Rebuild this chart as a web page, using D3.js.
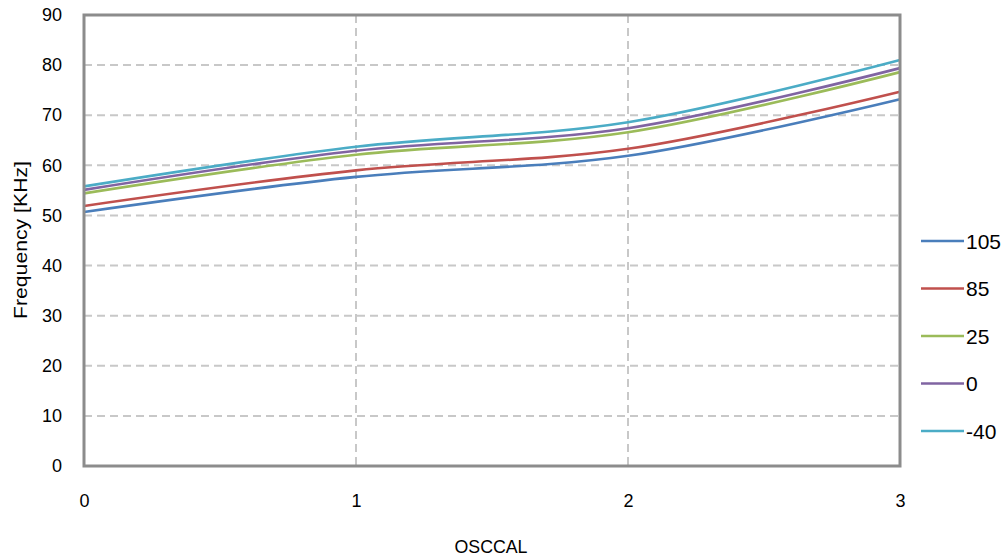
<!DOCTYPE html>
<html>
<head>
<meta charset="utf-8">
<script src="https://cdn.jsdelivr.net/npm/d3@7"></script>
<style>
  html, body { margin: 0; padding: 0; background: #fff; }
  svg { display: block; }
</style>
</head>
<body>
<svg id="chart" width="1006" height="560"></svg>
<script>
const oscCal = [0, 1, 2, 3];
const seriesNames = ["105", "85", "25", "0", "-40"];
const s105 = [50.7, 57.7, 61.9, 73.2];
const s85 = [51.9, 59.0, 63.3, 74.7];
const s25 = [54.4, 62.1, 66.6, 78.6];
const s0 = [55.1, 62.9, 67.4, 79.4];
const sM40 = [55.8, 63.7, 68.6, 81.0];
const seriesValues = [s105, s85, s25, s0, sM40];
const colors = ["#4a7ebb", "#c0504d", "#9bbb59", "#8064a2", "#4bacc6"];
const yTicks = [0, 10, 20, 30, 40, 50, 60, 70, 80, 90];
const xTicks = [0, 1, 2, 3];

const svg = d3.select("#chart");
const L = 84, R = 900, T = 15, B = 466;
const x = d3.scaleLinear().domain([0, 3]).range([L, R]);
const y = d3.scaleLinear().domain([0, 90]).range([B, T]);
const FONT = "Liberation Sans, Arial, sans-serif";

// grid
svg.append("g").selectAll("line").data(yTicks.filter(d => d > 0 && d < 90)).join("line")
  .attr("x1", L).attr("x2", R).attr("y1", d => y(d)).attr("y2", d => y(d))
  .attr("stroke", "#c8c8c8").attr("stroke-width", 2).attr("stroke-dasharray", "8,5");
svg.append("g").selectAll("line").data(xTicks.filter(d => d > 0 && d < 3)).join("line")
  .attr("y1", T).attr("y2", B).attr("x1", d => x(d)).attr("x2", d => x(d))
  .attr("stroke", "#c8c8c8").attr("stroke-width", 2).attr("stroke-dasharray", "8,5");

// lines
const line = d3.line().x((d, i) => x(oscCal[i])).y(d => y(d)).curve(d3.curveCatmullRom.alpha(0.5));
seriesValues.forEach((vals, i) => {
  svg.append("path").datum(vals).attr("d", line)
    .attr("fill", "none").attr("stroke", colors[i]).attr("stroke-width", 2.6);
});

// border
svg.append("rect").attr("x", L).attr("y", T).attr("width", R - L).attr("height", B - T)
  .attr("fill", "none").attr("stroke", "#8c8c8c").attr("stroke-width", 3);

// y axis labels
const yAxis = d3.axisLeft(y).tickValues(yTicks).tickSize(0).tickPadding(22).tickFormat(d3.format("d"));
const gy = svg.append("g").attr("transform", `translate(${L},0)`).call(yAxis);
gy.select(".domain").remove();
gy.selectAll("text").attr("font-family", FONT).attr("font-size", 18).attr("fill", "#000");

const xAxis = d3.axisBottom(x).tickValues(xTicks).tickSize(0).tickPadding(28).tickFormat(d3.format("d"));
const gx = svg.append("g").attr("transform", `translate(0,${B})`).call(xAxis);
gx.select(".domain").remove();
gx.selectAll("text").attr("font-family", FONT).attr("font-size", 18).attr("fill", "#000");

// axis titles
svg.append("text").attr("x", 491).attr("y", 553).attr("text-anchor", "middle")
  .attr("font-family", FONT).attr("font-size", 19).attr("fill", "#000")
  .attr("textLength", 73).attr("lengthAdjust", "spacingAndGlyphs")
  .text("OSCCAL");
svg.append("text").attr("transform", "translate(27,240) rotate(-90)").attr("text-anchor", "middle")
  .attr("font-family", FONT).attr("font-size", 18).attr("fill", "#000")
  .attr("textLength", 158).attr("lengthAdjust", "spacingAndGlyphs")
  .text("Frequency [KHz]");

// legend
const leg = svg.append("g");
const ly = d3.scalePoint().domain(seriesNames).range([241, 431]);
seriesNames.forEach((n, i) => {
  leg.append("line").attr("x1", 921).attr("x2", 964).attr("y1", ly(n)).attr("y2", ly(n))
    .attr("stroke", colors[i]).attr("stroke-width", 2.6);
  leg.append("text").attr("x", 966).attr("y", ly(n)).attr("dy", "0.36em")
    .attr("font-family", "Liberation Sans Narrow, Arial Narrow, Liberation Sans, sans-serif")
    .attr("font-size", 21).attr("fill", "#000").text(n);
});
</script>
</body>
</html>
